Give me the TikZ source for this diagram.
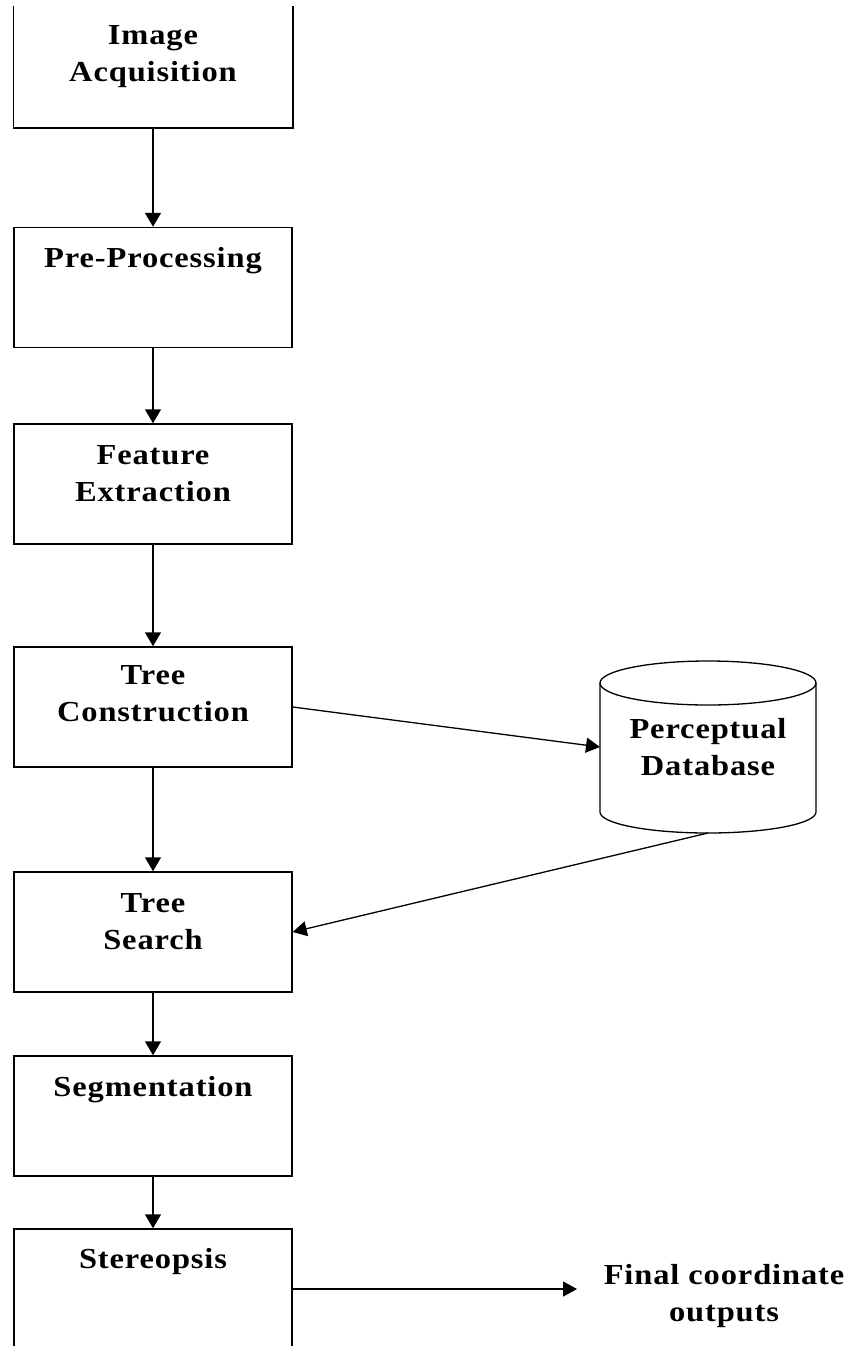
\documentclass[tikz,border=0pt]{standalone}
\usepackage{fontspec}
\setmainfont{Liberation Serif}
\newfontfamily\lblfont[LetterSpace=3,FakeStretch=1.12]{Liberation Serif}
\usetikzlibrary{arrows.meta}
\begin{document}
\begin{tikzpicture}[x=1pt,y=-1pt,
  stepbox/.style={rectangle,draw,line width=1.5pt,minimum width=278pt,minimum height=120pt,inner sep=0pt},
  lbl/.style={font=\lblfont\bfseries\fontsize{29}{37}\selectfont,align=center,inner sep=0pt,anchor=north},
  arr/.style={line width=1.6pt,-{Triangle[length=14pt,width=16pt]}},
  darr/.style={line width=1.3pt,-{Triangle[length=14pt,width=15pt]}}]
\useasboundingbox (0,0) rectangle (856,1346);
\clip (0,0) rectangle (856,1346);
\fill[white] (0,0) rectangle (856,1346);
% boxes
\node[stepbox,draw=none] (b1) at (153,67) {};
\draw[line width=1.5pt] (b1.north west) -- (b1.south west) -- (b1.south east) -- (b1.north east);
\node[stepbox] (b2) at (153,287.5) {};
\node[stepbox] (b3) at (153,484) {};
\node[stepbox] (b4) at (153,707) {};
\node[stepbox] (b5) at (153,932) {};
\node[stepbox] (b6) at (153,1116) {};
\node[stepbox] (b7) at (153,1289) {};
% labels
\node[lbl] (t1) at (153,25) {Image\\Acquisition};
\node[lbl] (t2) at (153,247) {Pre-Processing};
\node[lbl] (t3) at (153,445) {Feature\\Extraction};
\node[lbl] (t4) at (153,665) {Tree\\Construction};
\node[lbl] (t5) at (153,893) {Tree\\Search};
\node[lbl] (t6) at (153,1076) {Segmentation};
\node[lbl] (t7) at (153,1248) {Stereopsis};
% database cylinder
\draw[line width=1.3pt] (600,683) -- (600,812) arc[start angle=180,end angle=0,x radius=108,y radius=21] -- (816,683);
\draw[line width=1.3pt] (708,683) ellipse[x radius=108,y radius=22];
\coordinate (dbL) at (600,747);
\coordinate (dbB) at (708,833);
\node[lbl] (db) at (708,718) {Perceptual\\Database};
% output
\node[lbl] (out) at (724,1264) {Final coordinate\\outputs};
\coordinate (outL) at (577,1289);
% connectors
\draw[arr] (b1.south) -- (b2.north);
\draw[arr] (b2.south) -- (b3.north);
\draw[arr] (b3.south) -- (b4.north);
\draw[arr] (b4.south) -- (b5.north);
\draw[arr] (b5.south) -- (b6.north);
\draw[arr] (b6.south) -- (b7.north);
\draw[darr] (b4.east) -- (dbL);
\draw[darr] (dbB) -- (b5.east);
\draw[darr] (b7.east) -- (outL);
\end{tikzpicture}
\end{document}
